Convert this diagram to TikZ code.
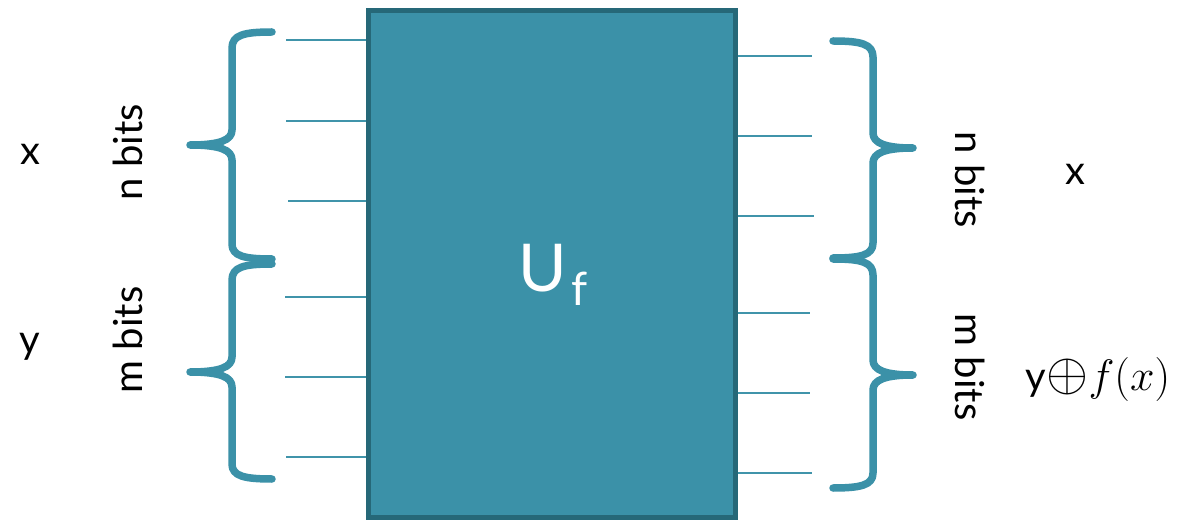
\RequirePackage{fix-cm}
\documentclass[tikz,border=0pt]{standalone}
\usepackage{fontspec}
\setmainfont{Lato}
\definecolor{teal1}{RGB}{59,145,168}
\definecolor{teal2}{RGB}{38,104,120}
\definecolor{wire}{RGB}{64,148,170}
\begin{document}
\begin{tikzpicture}[x=1pt,y=-1pt,
  wirestyle/.style={draw=wire,line width=2.6pt},
  bracestyle/.style={draw=teal1,line width=7.5pt,line cap=round,line join=round},
  lbl/.style={inner sep=0pt,font=\fontsize{40}{48}\selectfont},
  bits/.style={lbl}]
\useasboundingbox (0,0) rectangle (1185,526);
% main box
\node[draw=teal2,fill=teal1,line width=5pt,minimum width=367pt,minimum height=507pt,inner sep=0pt] (U) at (552,264) {};
\node[text=white,inner sep=0pt,anchor=base,font=\fontsize{66}{70}\selectfont] (Ulbl) at (553,292) {U\kern4pt\raisebox{-14pt}{\fontsize{46}{50}\selectfont f}};
% left wire ends
\foreach \n/\yy/\xx in {l1/40/286,l2/121/286,l3/201/288,l4/297/285,l5/377/285,l6/457/286}{
  \coordinate (\n) at (\xx,\yy);
  \draw[wirestyle] (\n) -- (\n -| U.west);
}
% right wire ends
\foreach \n/\yy/\xx in {r1/56/812,r2/136/812,r3/216/814,r4/313/810,r5/393/810,r6/473/812}{
  \coordinate (\n) at (\xx,\yy);
  \draw[wirestyle] (U.east |- \n) -- (\n);
}
% left braces
\draw[bracestyle] (272,32) .. controls (244,32) and (232,35) .. (232,48) -- (232,130)
  .. controls (232,140) and (220,145) .. (190,145)
  .. controls (220,145) and (232,150) .. (232,160) -- (232,244)
  .. controls (232,256) and (244,259) .. (272,259);
\draw[bracestyle] (272,264) .. controls (244,264) and (232,267) .. (232,280) -- (232,357)
  .. controls (232,367) and (220,372) .. (190,372)
  .. controls (220,372) and (232,377) .. (232,387) -- (232,464)
  .. controls (232,476) and (244,479) .. (272,479);
% right braces
\draw[bracestyle] (833,41) .. controls (861,41) and (873,44) .. (873,57) -- (873,133)
  .. controls (873,143) and (885,148) .. (913,148)
  .. controls (885,148) and (873,153) .. (873,163) -- (873,243)
  .. controls (873,255) and (861,258) .. (833,258);
\draw[bracestyle] (833,259) .. controls (861,259) and (873,262) .. (873,275) -- (873,360)
  .. controls (873,370) and (885,375) .. (913,375)
  .. controls (885,375) and (873,380) .. (873,390) -- (873,473)
  .. controls (873,485) and (861,488) .. (833,488);
% labels
\node[lbl,anchor=base] (xl) at (30,165) {x};
\node[lbl,anchor=base] (yl) at (30,353) {y};
\node[bits,rotate=90] (nl) at (128,152) {n bits};
\node[bits,rotate=90] (ml) at (128,340) {m bits};
\node[bits,rotate=-90] (nr) at (970,180) {n bits};
\node[bits,rotate=-90] (mr) at (970,367) {m bits};
\node[lbl,anchor=base] (xr) at (1075,185) {x};
\node[lbl,anchor=base] (yr) at (1098,390) {y{\fontsize{54}{60}\selectfont$\oplus$}{\fontsize{44}{50}\selectfont$f(x)$}};
\end{tikzpicture}
\end{document}
